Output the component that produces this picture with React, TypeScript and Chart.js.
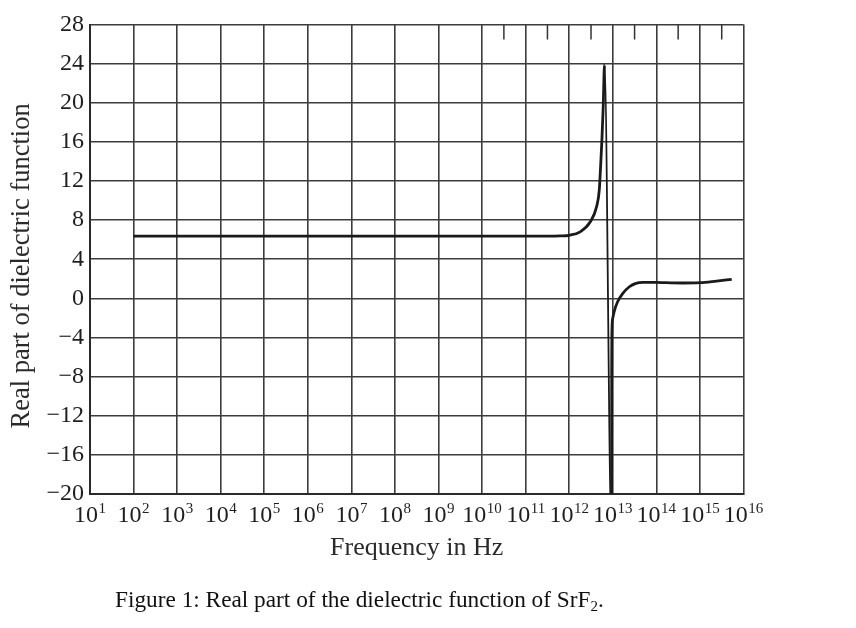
import React, { useEffect, useRef } from 'react';
import { Chart, registerables } from 'chart.js';

Chart.register(...registerables);

// ---- data ----
const decadeExponents = [1, 2, 3, 4, 5, 6, 7, 8, 9, 10, 11, 12, 13, 14, 15, 16];
const xTickBase = '10';
const xTickExponents = ['1', '2', '3', '4', '5', '6', '7', '8', '9', '10', '11', '12', '13', '14', '15', '16'];
const yTickValues = [-20, -16, -12, -8, -4, 0, 4, 8, 12, 16, 20, 24, 28];
const yTickLabels = ['−20', '−16', '−12', '−8', '−4', '0', '4', '8', '12', '16', '20', '24', '28'];

// log10(frequency in Hz)
const freqExp = [2, 4, 6, 8, 10, 11.5, 11.79, 12.0, 12.25, 12.48, 12.63, 12.69, 12.72, 12.75, 12.78, 12.81,
  12.97, 12.975, 12.982, 13.0, 13.03, 13.11, 13.23, 13.38, 13.53, 13.69, 13.99, 14.22, 14.6, 15.0, 15.38, 15.73];
const epsReal = [6.36, 6.36, 6.36, 6.36, 6.36, 6.36, 6.38, 6.45, 6.8, 7.8, 9.4, 11.1, 13.5, 16.2, 19.6, 23.9,
  -24, -8, -3.1, -2.0, -1.37, -0.35, 0.51, 1.19, 1.54, 1.64, 1.64, 1.6, 1.57, 1.6, 1.77, 1.95];
const peakIndex = 15;

// small inward tick marks hanging from the top frame (half decades)
const topMarkExp = [10.5, 11.5, 12.5, 13.5, 14.5, 15.5];

const xTitle = 'Frequency in Hz';
const yTitle = 'Real part of dielectric function';

const SERIF = "'Liberation Serif', 'Times New Roman', serif";

const decadeLabelPlugin = {
  id: 'decadeLabels',
  afterDraw(chart: any) {
    const s = chart.scales.x;
    const ctx = chart.ctx as CanvasRenderingContext2D;
    ctx.save();
    ctx.fillStyle = '#1e1e1e';
    ctx.textBaseline = 'alphabetic';
    ctx.textAlign = 'left';
    const baseY = s.top + 27.5;
    const supY = baseY - 9;
    decadeExponents.forEach((e, i) => {
      const sup = xTickExponents[i];
      ctx.font = `24px ${SERIF}`;
      const wb = ctx.measureText(xTickBase).width;
      ctx.font = `15px ${SERIF}`;
      const ws = ctx.measureText(sup).width;
      const gap = 0.5;
      const x0 = s.getPixelForValue(e) - (wb + gap + ws) / 2;
      ctx.font = `24px ${SERIF}`;
      ctx.fillText(xTickBase, x0, baseY);
      ctx.font = `15px ${SERIF}`;
      ctx.fillText(sup, x0 + wb + gap, supY);
    });
    ctx.restore();
  },
};

export default function App() {
  const canvasRef = useRef<HTMLCanvasElement | null>(null);

  useEffect(() => {
    const canvas = canvasRef.current;
    if (!canvas) return;
    const yMax = yTickValues[yTickValues.length - 1];
    const chart = new Chart(canvas, {
      type: 'line',
      data: {
        datasets: [
          {
            data: freqExp.map((x, i) => ({ x, y: epsReal[i] })),
            borderColor: '#1a1a1a',
            borderWidth: 2.8,
            pointRadius: 0,
            cubicInterpolationMode: 'monotone',
            fill: false,
            clip: 0,
            segment: {
              borderWidth: (c: any) => (c.p0DataIndex === peakIndex ? 1.8 : undefined),
            },
          },
          {
            data: topMarkExp.map((x) => ({ x, y: yMax })),
            showLine: false,
            pointStyle: 'line',
            pointRotation: 90,
            pointRadius: 15,
            pointBorderWidth: 1.5,
            pointBorderColor: '#333',
            borderColor: '#333',
            clip: 0,
          },
        ],
      },
      options: {
        responsive: false,
        animation: false,
        events: [],
        layout: { padding: { left: 0, top: 24.5, right: 112.5, bottom: 60 } },
        plugins: { legend: { display: false }, tooltip: { enabled: false } },
        scales: {
          x: {
            type: 'linear',
            min: decadeExponents[0],
            max: decadeExponents[decadeExponents.length - 1],
            afterBuildTicks: (s: any) => {
              s.ticks = decadeExponents.map((v) => ({ value: v }));
            },
            afterFit: (s: any) => {
              s.height = 74;
            },
            ticks: { display: false, autoSkip: false, maxRotation: 0 },
            grid: { color: '#3c3c3c', lineWidth: 1.6, drawTicks: false },
            border: { display: true, color: '#2a2a2a', width: 2 },
            title: {
              display: true,
              text: xTitle,
              color: '#2a2a2a',
              font: { family: SERIF, size: 26 },
              padding: { top: 0, bottom: 4 },
            },
          },
          y: {
            type: 'linear',
            min: yTickValues[0],
            max: yMax,
            afterBuildTicks: (s: any) => {
              s.ticks = yTickValues.map((v) => ({ value: v }));
            },
            afterFit: (s: any) => {
              s.width = 90;
            },
            ticks: {
              autoSkip: false,
              padding: 6,
              color: '#1e1e1e',
              font: { family: SERIF, size: 24 },
              callback: (v: any) => yTickLabels[yTickValues.indexOf(Number(v))] ?? '',
            },
            grid: { color: '#3c3c3c', lineWidth: 1.6, drawTicks: false },
            border: { display: true, color: '#2a2a2a', width: 2 },
            title: {
              display: true,
              text: yTitle + '\u2002',
              color: '#2a2a2a',
              font: { family: SERIF, size: 26.5 },
              padding: { top: 6, bottom: 0 },
            },
          },
        },
      },
      plugins: [decadeLabelPlugin],
    } as any);
    return () => chart.destroy();
  }, []);

  return (
    <div style={{ position: 'fixed', left: 0, top: 0, width: 856, height: 628, background: '#fff' }}>
      <canvas ref={canvasRef} width={856} height={628} style={{ width: 856, height: 628, display: 'block' }} />
      <div
        style={{
          position: 'absolute',
          left: 115,
          top: 586,
          fontFamily: SERIF,
          fontSize: 23.3,
          lineHeight: '26px',
          color: '#111',
          whiteSpace: 'nowrap',
        }}
      >
        Figure 1: Real part of the dielectric function of SrF<sub style={{ fontSize: 15, verticalAlign: '-4px', lineHeight: 0 }}>2</sub>.
      </div>
    </div>
  );
}
